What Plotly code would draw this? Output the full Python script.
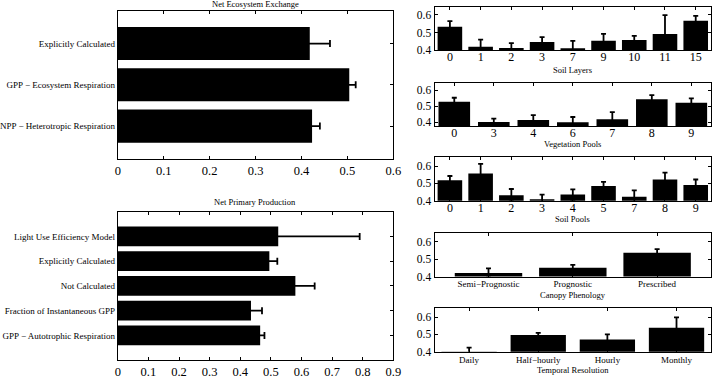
import plotly.graph_objects as go

# ---------------- data ----------------
nee_labels = ["Explicitly Calculated", "GPP − Ecosystem Respiration", "NPP − Heterotropic Respiration"]
nee_vals = [0.418, 0.504, 0.423]
nee_err = [0.044, 0.014, 0.017]

npp_labels = ["Light Use Efficiency Model", "Explicitly Calculated", "Not Calculated",
              "Fraction of Instantaneous GPP", "GPP − Autotrophic Respiration"]
npp_vals = [0.524, 0.495, 0.580, 0.435, 0.465]
npp_err = [0.266, 0.026, 0.063, 0.036, 0.014]

soil_layers = ["0", "1", "2", "3", "7", "9", "10", "11", "15"]
soil_layers_vals = [0.532, 0.419, 0.413, 0.447, 0.411, 0.453, 0.457, 0.492, 0.566]
soil_layers_err = [0.032, 0.041, 0.027, 0.027, 0.042, 0.039, 0.024, 0.106, 0.028]

veg_pools = ["0", "3", "4", "6", "7", "8", "9"]
veg_vals = [0.529, 0.403, 0.415, 0.401, 0.420, 0.545, 0.523]
veg_err = [0.025, 0.021, 0.031, 0.033, 0.045, 0.025, 0.027]

soil_pools = ["0", "1", "2", "3", "4", "5", "7", "8", "9"]
soil_pools_vals = [0.519, 0.557, 0.432, 0.409, 0.436, 0.485, 0.423, 0.523, 0.491]
soil_pools_err = [0.024, 0.056, 0.036, 0.027, 0.030, 0.024, 0.037, 0.039, 0.032]

phen = ["Semi−Prognostic", "Prognostic", "Prescribed"]
phen_vals = [0.421, 0.451, 0.538]
phen_err = [0.026, 0.017, 0.020]

temporal = ["Daily", "Half−hourly", "Hourly", "Monthly"]
temp_vals = [0.400, 0.496, 0.470, 0.538]
temp_err = [0.023, 0.012, 0.030, 0.060]

# ---------------- layout helpers ----------------
W, H = 723, 381
FONT = "Liberation Serif"


def xd(a, b):
    return [a / W, b / W]


def yd(top, bottom):
    return [1 - bottom / H, 1 - top / H]


axis_common = dict(showline=True, linecolor="black", linewidth=1, mirror="ticks",
                   ticks="inside", ticklen=3, tickcolor="black", tickwidth=1,
                   showgrid=False, zeroline=False, fixedrange=True)

fig = go.Figure()

ebar = dict(type="data", color="black", thickness=1.8, visible=True)

# Left top: NEE (horizontal)
fig.add_trace(go.Bar(y=nee_labels, x=nee_vals, orientation="h", width=0.8,
                     marker=dict(color="black", line=dict(width=0)),
                     error_x=dict(array=nee_err, width=3.5, **ebar),
                     xaxis="x", yaxis="y"))
# Left bottom: NPP (horizontal)
fig.add_trace(go.Bar(y=npp_labels, x=npp_vals, orientation="h", width=0.8,
                     marker=dict(color="black", line=dict(width=0)),
                     error_x=dict(array=npp_err, width=3.5, **ebar),
                     xaxis="x2", yaxis="y2"))

right_sets = [
    (soil_layers, soil_layers_vals, soil_layers_err),
    (veg_pools, veg_vals, veg_err),
    (soil_pools, soil_pools_vals, soil_pools_err),
    (phen, phen_vals, phen_err),
    (temporal, temp_vals, temp_err),
]
for i, (cats, vals, errs) in enumerate(right_sets):
    n = i + 3
    fig.add_trace(go.Bar(x=cats, y=vals, width=0.8,
                         marker=dict(color="black", line=dict(width=0)),
                         error_y=dict(array=errs, width=2.5, **ebar),
                         xaxis=f"x{n}", yaxis=f"y{n}"))

layout = dict(width=W, height=H, margin=dict(l=0, r=0, t=0, b=0),
              paper_bgcolor="white", plot_bgcolor="white", showlegend=False,
              bargap=0.2,
              font=dict(family=FONT, color="black"))

# Left top axes
layout["xaxis"] = dict(axis_common, domain=xd(114, 395), anchor="y", range=[0, 0.6], dtick=0.1,
                       tickfont=dict(size=12.5, family=FONT))
layout["yaxis"] = dict(axis_common, domain=yd(10.7, 161.7), anchor="x", type="category",
                       range=[2.8, -0.8], tickfont=dict(size=9, family=FONT))
# Left bottom axes
layout["xaxis2"] = dict(axis_common, domain=xd(114, 395), anchor="y2", range=[0, 0.9], dtick=0.1,
                        tickfont=dict(size=12.5, family=FONT))
layout["yaxis2"] = dict(axis_common, domain=yd(215, 366), anchor="x2", type="category",
                        range=[5, -1], tickfont=dict(size=9, family=FONT))

right_boxes = [(7, 51), (84, 128), (160, 204), (237, 281), (313.3, 357.3)]
right_ranges = [[0.4, 0.645], [0.378, 0.648], [0.4, 0.65], [0.4, 0.65], [0.4, 0.65]]
right_xsize = [12, 12, 12, 9, 9]
right_standoff = [-5, -4, -4, -1, 0]
for i, ((top, bot), yr, xs, so) in enumerate(zip(right_boxes, right_ranges, right_xsize, right_standoff)):
    n = i + 3
    ncat = len(right_sets[i][0])
    layout[f"xaxis{n}"] = dict(axis_common, domain=xd(437, 719), anchor=f"y{n}", type="category",
                               range=[-0.5, ncat - 0.5] if ncat != 3 else [-0.64, 2.64],
                               ticklabelstandoff=so,
                               tickfont=dict(size=xs, family=FONT))
    layout[f"yaxis{n}"] = dict(axis_common, domain=yd(top, bot), anchor=f"x{n}", range=yr,
                               tickvals=[0.4, 0.5, 0.6], ticktext=["0.4", "0.5", "0.6"],
                               tickfont=dict(size=11.5, family=FONT))

ann = []


def add_text(txt, x, y, size=8.5):
    ann.append(dict(text=txt, x=x / W, y=1 - y / H, xref="paper", yref="paper",
                    showarrow=False, xanchor="center", yanchor="middle",
                    font=dict(size=size, family=FONT, color="black")))


add_text("Net Ecosystem Exchange", 254, 4.5)
add_text("Net Primary Production", 254, 205)
add_text("Soil Layers", 578, 71)
add_text("Vegetation Pools", 578, 146)
add_text("Soil Pools", 578, 222)
add_text("Canopy Phenology", 578, 300)
add_text("Temporal Resolution", 578, 376)
layout["annotations"] = ann

fig.update_layout(**layout)
fig.write_html("out.html")
